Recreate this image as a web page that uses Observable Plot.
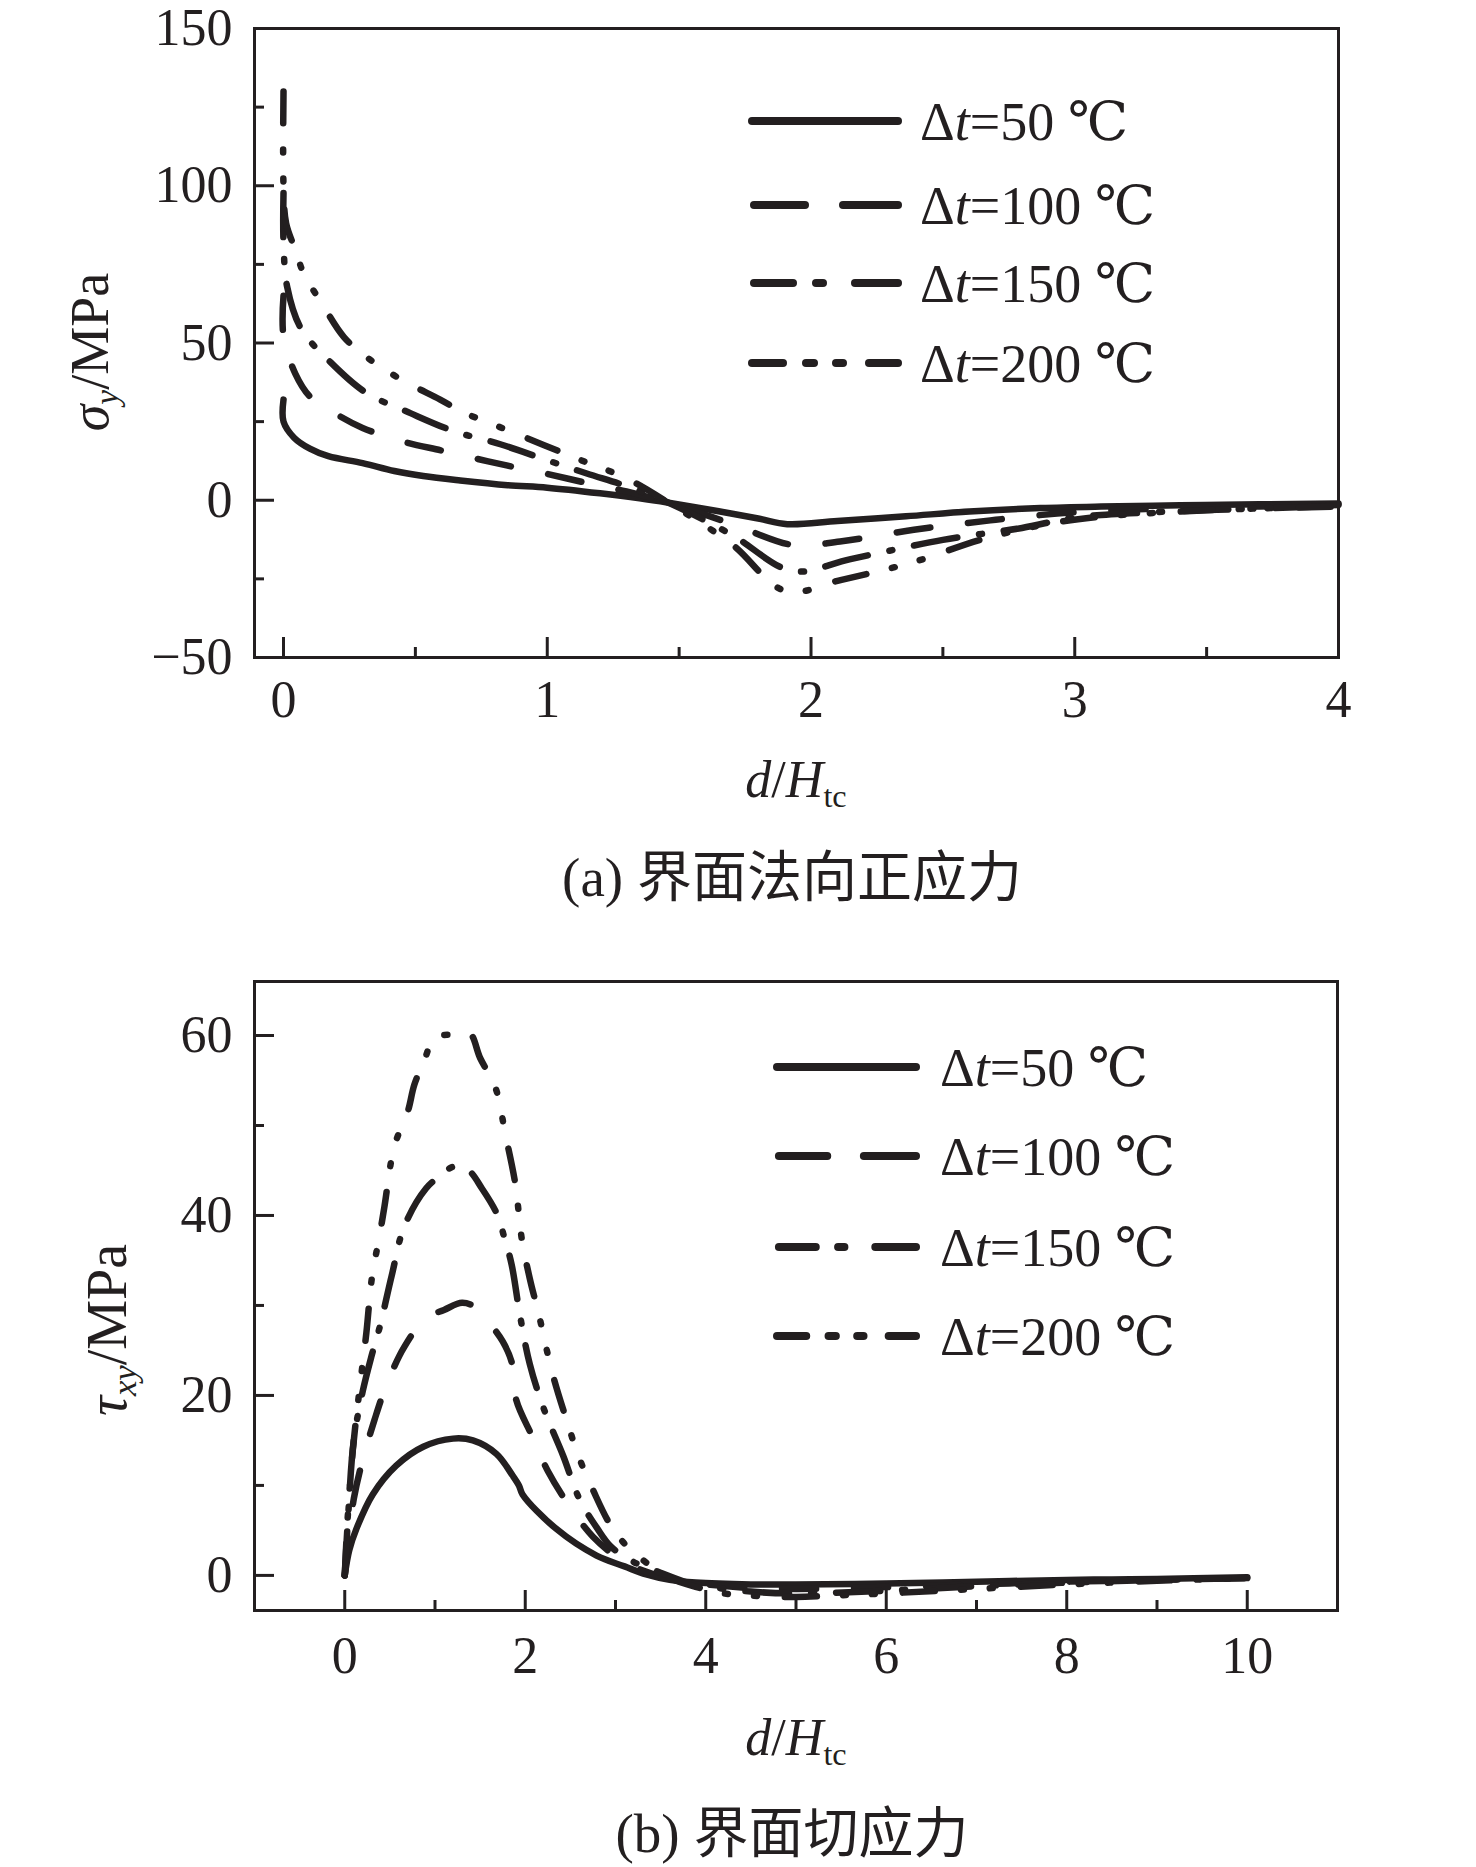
<!DOCTYPE html>
<html><head><meta charset="utf-8">
<script src="https://cdn.jsdelivr.net/npm/d3@7"></script>
<script src="https://cdn.jsdelivr.net/npm/@observablehq/plot@0.6"></script>
<style>
html,body{margin:0;padding:0;background:#fff;}
#page{position:relative;width:1476px;height:1867px;background:#fff;overflow:hidden;font-family:"Liberation Serif","DejaVu Serif","Noto Sans CJK SC",serif;color:#231f20;}
.abs{position:absolute;white-space:nowrap;line-height:1;}
.center{transform:translate(-50%,-50%);}
.rot{transform:translate(-50%,-50%) rotate(-90deg);}
.sub{font-size:0.62em;position:relative;top:0.3em;}
.plot{position:absolute;left:0;}
</style></head><body><div id="page"></div>
<script>
// ---------- data: (a) interface normal stress sigma_y ----------
const seriesLabels = ["Δt=50 ℃", "Δt=100 ℃", "Δt=150 ℃", "Δt=200 ℃"];
const sig50_x  = [0, 0, 0.04, 0.1, 0.17, 0.3, 0.42, 0.53, 0.67, 0.85, 1.0, 1.2, 1.35, 1.46, 1.65, 1.8, 1.91, 2.1, 2.36, 2.6, 2.87, 3.1, 3.4, 3.7, 4.0];
const sig50_y  = [32, 25, 19.9, 16.4, 14, 11.8, 9.3, 7.7, 6.3, 4.8, 4.0, 2.2, 0.6, -0.8, -3.5, -5.8, -7.6, -6.6, -5.1, -3.6, -2.5, -2.0, -1.6, -1.3, -1.0];
const sig100_x = [0, 0, 0.045, 0.1, 0.19, 0.3, 0.456, 0.6, 0.727, 0.85, 0.992, 1.15, 1.3, 1.46, 1.7, 1.93, 2.11, 2.39, 2.68, 3.0, 3.4, 3.7, 4.0];
const sig100_y = [65, 52, 40.2, 33, 27.9, 23, 18.6, 15.8, 13.3, 11, 8.5, 5.5, 2.8, -0.8, -7.5, -14.2, -13.1, -9.4, -6.4, -3.8, -2.5, -2.0, -1.5];
const sig150_x = [0, 0, 0.014, 0.067, 0.178, 0.311, 0.481, 0.645, 0.822, 0.99, 1.15, 1.3, 1.46, 1.7, 1.93, 2.15, 2.5, 2.8, 3.0, 3.3, 3.7, 4.0];
const sig150_y = [97.7, 82, 67.8, 54.5, 43.9, 34.3, 27.7, 22, 17.8, 13, 8.5, 4.5, -0.8, -11, -22.5, -18.7, -12.6, -8.8, -5.5, -3.8, -2.6, -1.8];
const sig200_x = [0, 0, 0.01, 0.045, 0.077, 0.146, 0.229, 0.317, 0.45, 0.594, 0.683, 0.84, 0.986, 1.15, 1.3, 1.46, 1.7, 1.905, 2.116, 2.387, 2.64, 2.9, 3.1, 3.4, 3.7, 4.0];
const sig200_y = [130, 100, 88, 79.6, 72, 62.5, 51.9, 45.4, 38.2, 32, 27.9, 22.6, 17.6, 12, 7, -0.8, -14, -28.9, -25.3, -19.7, -12.6, -7.5, -5.2, -3.6, -2.6, -2.0];
const sigXTicks = [0, 1, 2, 3, 4];
const sigXMinor = [0.5, 1.5, 2.5, 3.5];
const sigYTicks = [-50, 0, 50, 100, 150];
const sigYMinor = [-25, 25, 75, 125];

// ---------- data: (b) interface shear stress tau_xy ----------
const tau50_x  = [0, 0.05, 0.13, 0.31, 0.57, 0.87, 1.2, 1.42, 1.68, 1.86, 1.93, 1.97, 2.34, 2.79, 3.1, 3.34, 3.6, 3.89, 4.5, 5, 6, 7, 8, 9, 10];
const tau50_y  = [0, 2.8, 5.2, 9.0, 12.2, 14.3, 15.2, 15.0, 13.5, 11.1, 10.0, 9.0, 5.2, 2.2, 1.0, 0.1, -0.5, -0.8, -1.0, -1.0, -0.9, -0.7, -0.5, -0.4, -0.2];
const tau100_x = [0, 0.04, 0.1, 0.2, 0.33, 0.46, 0.66, 0.9, 1.1, 1.3, 1.45, 1.59, 1.75, 1.85, 1.9, 2.08, 2.25, 2.49, 2.75, 3.08, 3.4, 3.7, 4.0, 4.5, 5, 6, 7, 8, 9, 10];
const tau100_y = [0, 4, 8.5, 12.9, 17.3, 21.1, 25.4, 28.6, 29.5, 30.3, 29.8, 28.2, 26, 23.7, 19.5, 15.4, 11.6, 7.7, 4.3, 1.6, 0.2, -0.6, -1.0, -1.4, -1.5, -1.3, -1.0, -0.7, -0.5, -0.3];
const tau150_x = [0, 0.04, 0.1, 0.2, 0.3, 0.39, 0.52, 0.66, 0.9, 1.07, 1.2, 1.37, 1.52, 1.68, 1.77, 1.85, 1.94, 2.05, 2.21, 2.42, 2.6, 2.8, 2.95, 3.2, 3.5, 3.8, 4.0, 4.5, 5, 6, 7, 8, 9, 10];
const tau150_y = [0, 7, 15, 20.5, 24.5, 27.7, 33.3, 38.8, 43, 44.5, 45.4, 45, 43, 40.3, 37.5, 34.5, 29, 23.5, 18.4, 13.3, 8.5, 5.2, 3.2, 1.5, 0.3, -0.8, -1.2, -1.8, -2.0, -1.7, -1.2, -0.8, -0.5, -0.3];
const tau200_x = [0, 0.03, 0.09, 0.18, 0.24, 0.3, 0.39, 0.44, 0.55, 0.7, 0.77, 0.88, 1.0, 1.2, 1.38, 1.5, 1.67, 1.78, 1.89, 1.96, 2.05, 2.15, 2.3, 2.45, 2.6, 2.75, 2.95, 3.15, 3.4, 3.6, 3.9, 4.2, 4.6, 5, 5.5, 6, 7, 8, 9, 10];
const tau200_y = [0, 6, 14, 22, 27, 33, 38, 41, 47.7, 51.6, 54.5, 57.2, 59.8, 60.1, 60.3, 57.5, 54.2, 49, 43.5, 37.5, 33, 29, 22.5, 17.5, 13, 9.5, 5.5, 3.0, 1.0, -0.3, -1.3, -2.0, -2.3, -2.4, -2.2, -2.0, -1.5, -1.0, -0.6, -0.3];
const tauXTicks = [0, 2, 4, 6, 8, 10];
const tauXMinor = [1, 3, 5, 7, 9];
const tauYTicks = [0, 20, 40, 60];
const tauYMinor = [10, 30, 50];

// ---------- helpers ----------
const ink = "#231f20";
const dashes = [null, "34,38", "44,22,3,22", "32,26,3,26,3,28"];
const pairs = (xs, ys) => xs.map((x, i) => ({x, y: ys[i]}));
const fontStack = "'Liberation Serif','DejaVu Serif','Noto Sans CJK SC',serif";
const intFmt = d => String(d).replace("-", "\u2212");

function panel(o) {
  const pw = o.width - o.ml - o.mr, ph = o.height - o.mt - o.mb;
  return Plot.plot({
    width: o.width, height: o.height,
    marginTop: o.mt, marginBottom: o.mb, marginLeft: o.ml, marginRight: o.mr,
    x: {domain: o.xDomain}, y: {domain: o.yDomain},
    style: {fontFamily: fontStack, fontSize: "52px", color: ink, background: "transparent", overflow: "visible"},
    marks: [
      ...o.data.map((d, i) => Plot.line(d, {
        x: "x", y: "y", curve: "catmull-rom", stroke: ink, strokeWidth: 6.5,
        strokeLinecap: "round", strokeLinejoin: "round",
        ...(dashes[i] ? {strokeDasharray: dashes[i]} : {})
      })),
      Plot.tickX(o.xMajor, {x: d => d, insetTop: ph - 20, strokeWidth: 3, stroke: ink}),
      Plot.tickX(o.xMinor, {x: d => d, insetTop: ph - 10, strokeWidth: 3, stroke: ink}),
      Plot.tickY(o.yMajor, {y: d => d, insetRight: pw - 20, strokeWidth: 3, stroke: ink}),
      Plot.tickY(o.yMinor, {y: d => d, insetRight: pw - 10, strokeWidth: 3, stroke: ink}),
      Plot.axisX({ticks: o.xMajor, tickSize: 0, tickPadding: o.xPad, label: null, tickFormat: intFmt}),
      Plot.axisY({ticks: o.yMajor, tickSize: 0, tickPadding: 22, label: null, tickFormat: intFmt}),
      Plot.frame({stroke: ink, strokeWidth: 3})
    ]
  });
}

const page = document.getElementById("page");

const topPlot = panel({
  width: 1476, height: 900, mt: 28, mb: 243, ml: 254, mr: 138,
  xDomain: [-0.11, 4], yDomain: [-50, 150],
  xMajor: sigXTicks, xMinor: sigXMinor, yMajor: sigYTicks, yMinor: sigYMinor, xPad: 23,
  data: [pairs(sig50_x, sig50_y), pairs(sig100_x, sig100_y), pairs(sig150_x, sig150_y), pairs(sig200_x, sig200_y)]
});
topPlot.classList.add("plot"); topPlot.style.top = "0px";
page.appendChild(topPlot);

const botPlot = panel({
  width: 1476, height: 967, mt: 81, mb: 257, ml: 254, mr: 139,
  xDomain: [-1, 11], yDomain: [-3.9, 66],
  xMajor: tauXTicks, xMinor: tauXMinor, yMajor: tauYTicks, yMinor: tauYMinor, xPad: 26,
  data: [pairs(tau50_x, tau50_y), pairs(tau100_x, tau100_y), pairs(tau150_x, tau150_y), pairs(tau200_x, tau200_y)]
});
botPlot.classList.add("plot"); botPlot.style.top = "900px";
page.appendChild(botPlot);

// ---------- text: axis titles & captions ----------
function addText(html, left, top, cls, size) {
  const el = document.createElement("div");
  el.className = "abs " + cls;
  el.style.left = left + "px"; el.style.top = top + "px"; el.style.fontSize = size + "px";
  el.innerHTML = html;
  page.appendChild(el);
}
addText('<i>σ</i><span class="sub"><i>y</i></span>/MPa', 90, 352, "rot", 54);
addText('<i>d</i>/<i>H</i><span class="sub">tc</span>', 796, 780, "center", 52);
addText('(a) 界面法向正应力', 792, 877, "center", 55);
addText('<i>τ</i><span class="sub"><i>xy</i></span>/MPa', 107, 1330, "rot", 56);
addText('<i>d</i>/<i>H</i><span class="sub">tc</span>', 796, 1738, "center", 52);
addText('(b) 界面切应力', 792, 1833, "center", 55);

// ---------- legends ----------
const legendSegs = [
  [[748, 902]],
  [[750, 809], [839, 902]],
  [[750, 797], [812, 827], [851, 902]],
  [[748, 787], [802, 818], [832, 847], [865, 902]]
];
const svg = d3.select(page).append("svg")
  .attr("width", 1476).attr("height", 1867)
  .style("position", "absolute").style("left", 0).style("top", 0).style("pointer-events", "none");

function legend(rows, x0, x1, textX) {
  const s = d3.scaleLinear().domain([748, 902]).range([x0, x1]);
  rows.forEach((yy, i) => {
    legendSegs[i].forEach(([a, b]) => {
      svg.append("line").attr("x1", s(a) + 4).attr("x2", s(b) - 4).attr("y1", yy).attr("y2", yy)
        .attr("stroke", ink).attr("stroke-width", 8).attr("stroke-linecap", "round");
    });
    const lab = seriesLabels[i];
    const t = svg.append("text").attr("x", textX).attr("y", yy).attr("dy", "0.35em")
      .style("font-family", fontStack).style("font-size", "54px").attr("fill", ink);
    t.append("tspan").text("Δ");
    t.append("tspan").style("font-style", "italic").text("t");
    t.append("tspan").text(lab.slice(2));
  });
}
legend([121, 205, 283, 363], 748, 902, 920);
legend([1067, 1156, 1247, 1336], 773, 920, 940);
</script></body></html>
